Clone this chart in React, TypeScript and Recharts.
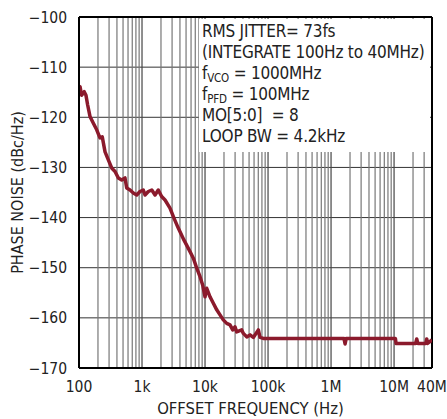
import React from 'react';
import { LineChart, Line, XAxis, YAxis, CartesianGrid, ReferenceLine } from 'recharts';

// offset frequency (Hz) and measured phase noise (dBc/Hz)
const freqHz = [
  100, 104, 110, 121, 129, 137, 150, 169, 191, 215, 234, 259, 292, 330, 373, 421, 476, 537, 572, 645,
  728, 824, 929, 1048, 1116, 1259, 1430, 1610, 1810, 2050, 2320, 2780, 3190, 3730, 4640, 5780, 6520,
  7390, 8330, 9190, 10000, 10640, 12000, 13550, 15340, 17300, 19500, 22100, 24900, 27500, 29900, 31800,
  38200, 40600, 45900, 51800, 58400, 70200, 74600, 84200, 200000, 1000000, 1600000, 1670000, 1740000,
  10500000, 10760000, 22000000, 22900000, 23800000, 32000000, 33000000, 34000000, 40000000,
];
const noiseDb = [
  -114.3, -113.9, -115.6, -114.9, -115.6, -117.5, -119.9, -121.2, -122.5, -124.1, -123.9, -126.9, -128.5,
  -130.1, -130.8, -132.1, -132.5, -132.1, -134.1, -134.5, -135.1, -135.5, -134.8, -134.5, -135.5, -134.8,
  -134.5, -135.5, -134.5, -135.8, -136.5, -138.1, -140, -142, -144.5, -146.8, -148.1, -150.1, -151.8,
  -153.5, -155.8, -154.1, -155.8, -157.1, -158.4, -159.4, -160.4, -161.1, -161.4, -162.4, -161.8, -162.8,
  -162.4, -163.1, -163.8, -163.4, -163.9, -162.4, -163.9, -164.1, -164.1, -164.1, -164.1, -165.2, -164.1,
  -164.1, -165.1, -165.1, -164.2, -165.1, -165.1, -164.2, -165.1, -164.4,
];

const xTicks = [100, 1000, 10000, 100000, 1000000, 10000000, 40000000];
const xTickLabels = ['100', '1k', '10k', '100k', '1M', '10M', '40M'];
const yTicks = [-170, -160, -150, -140, -130, -120, -110, -100];

// log grid: 2..9 inside each decade, up to 40M
const minorX: number[] = [];
for (let d = 100; d <= 10000000; d *= 10) {
  for (let m = 2; m <= 9; m++) {
    if (d * m < 40000000) minorX.push(d * m);
  }
}
const majorX = [1000, 10000, 100000, 1000000, 10000000];

const data = freqHz.map((f, i) => ({ f, pn: noiseDb[i] }));

const FONT = '"Liberation Sans Narrow", "DejaVu Sans Condensed", "Arial Narrow", sans-serif';
const minus = (v: number) => (v < 0 ? '\u2212' + Math.abs(v) : String(v));
// keep subscripts from pushing the line height
const subStyle: React.CSSProperties = { fontSize: 11.5, position: 'relative', top: 3, lineHeight: 0, verticalAlign: 'baseline' };

export default function App() {
  return (
    <div style={{ position: 'absolute', left: 0, top: 0, width: 447, height: 419, fontFamily: FONT, background: '#fff' }}>
      <LineChart width={447} height={419} data={data} margin={{ top: 17, right: 15, bottom: 0, left: 0 }}>
        <CartesianGrid vertical={false} stroke="#333" strokeOpacity={1} />
        {minorX.map((v) => (
          <ReferenceLine key={'m' + v} x={v} stroke="#777" strokeWidth={1.2} />
        ))}
        {majorX.map((v) => (
          <ReferenceLine key={'M' + v} x={v} stroke="#444" strokeWidth={1.2} />
        ))}
        <XAxis
          dataKey="f"
          type="number"
          scale="log"
          domain={[100, 40000000]}
          ticks={xTicks}
          tickFormatter={(v: number) => xTickLabels[xTicks.indexOf(v)] ?? ''}
          tickLine={false}
          tickMargin={7}
          axisLine={{ stroke: '#000', strokeWidth: 2 }}
          tick={{ fill: '#222', fontSize: 15.5 }}
          height={51}
          allowDataOverflow
          label={{ value: 'OFFSET FREQUENCY (Hz)', position: 'insideBottom', offset: 5, dx: -5, fill: '#222', fontSize: 16.5 }}
        />
        <YAxis
          type="number"
          domain={[-170, -100]}
          ticks={yTicks}
          tickFormatter={minus}
          tickLine={false}
          tickMargin={6}
          axisLine={{ stroke: '#000', strokeWidth: 2 }}
          tick={{ fill: '#222', fontSize: 15.5 }}
          width={79}
          label={{
            value: 'PHASE NOISE (dBc/Hz)',
            angle: -90,
            position: 'insideLeft',
            offset: 17,
            fill: '#222',
            fontSize: 16,
            style: { textAnchor: 'middle' },
          }}
        />
        <ReferenceLine x={40000000} stroke="#000" strokeWidth={2} />
        <ReferenceLine y={-100} stroke="#000" strokeWidth={2} />
        <Line
          dataKey="pn"
          stroke="#8b1a2c"
          strokeWidth={3.5}
          dot={false}
          isAnimationActive={false}
          strokeLinejoin="round"
        />
      </LineChart>
      <div
        style={{
          position: 'absolute',
          left: 199,
          top: 19,
          width: 231,
          height: 133,
          background: '#fff',
          color: '#222',
          fontSize: 17,
          lineHeight: '21px',
          paddingLeft: 3,
          paddingTop: 2,
          boxSizing: 'border-box',
          whiteSpace: 'nowrap',
          letterSpacing: -0.2,
        }}
      >
        <div>RMS JITTER= 73fs</div>
        <div>(INTEGRATE 100Hz to 40MHz)</div>
        <div>
          f<sub style={subStyle}>VCO</sub> = 1000MHz
        </div>
        <div>
          f<sub style={subStyle}>PFD</sub> = 100MHz
        </div>
        <div>MO[5:0]&nbsp; = 8</div>
        <div>LOOP BW = 4.2kHz</div>
      </div>
    </div>
  );
}
